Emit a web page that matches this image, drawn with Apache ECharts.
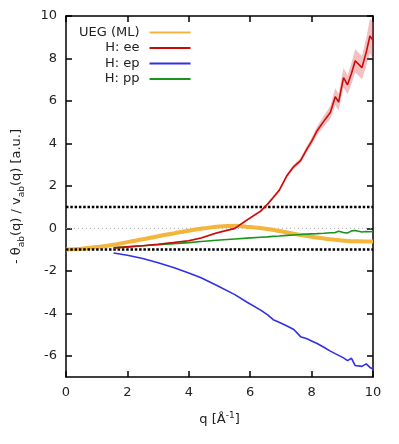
<!DOCTYPE html>
<html>
<head>
<meta charset="utf-8">
<script src="https://cdn.jsdelivr.net/npm/echarts@6/dist/echarts.min.js"></script>
<style>
  html, body { margin: 0; padding: 0; background: #fff; }
  #chart { width: 399px; height: 444px; }
</style>
</head>
<body>
<div id="chart"></div>
<script>
// UEG (ML) curve
const uegQ = [0, 0.5, 1, 1.5, 2, 2.5, 3, 3.5, 4, 4.5, 5, 5.5, 6, 6.5, 7, 7.5, 8, 8.5, 9, 9.5, 10];
const uegVal = [-1, -0.96, -0.88, -0.78, -0.65, -0.51, -0.37, -0.24, -0.11, 0.0, 0.09, 0.12, 0.06, -0.02, -0.14, -0.28, -0.4, -0.5, -0.57, -0.61, -0.62];

// hydrogen data, common q grid
const qH = [1.55, 2.0, 2.5, 3.0, 3.5, 4.0, 4.4, 4.9, 5.5, 5.9, 6.34, 6.56, 6.75, 6.94, 7.2, 7.42, 7.64, 7.85, 8.0, 8.18, 8.4, 8.61, 8.77, 8.88, 9.04, 9.17, 9.3, 9.42, 9.64, 9.78, 9.9, 10.0];
const ee = [-0.92, -0.87, -0.82, -0.75, -0.67, -0.58, -0.45, -0.22, 0.0, 0.4, 0.81, 1.13, 1.45, 1.78, 2.49, 2.91, 3.19, 3.74, 4.1, 4.6, 5.05, 5.46, 6.2, 5.95, 7.1, 6.76, 7.3, 7.89, 7.57, 8.3, 9.06, 8.85];
const eeErr = [0.04, 0.04, 0.04, 0.04, 0.04, 0.04, 0.04, 0.05, 0.05, 0.05, 0.06, 0.06, 0.07, 0.08, 0.09, 0.1, 0.12, 0.15, 0.17, 0.2, 0.25, 0.3, 0.4, 0.4, 0.45, 0.45, 0.5, 0.55, 0.55, 0.65, 0.8, 0.9];
const ep = [-1.16, -1.27, -1.42, -1.62, -1.84, -2.1, -2.33, -2.68, -3.12, -3.48, -3.85, -4.06, -4.3, -4.42, -4.6, -4.76, -5.1, -5.2, -5.3, -5.42, -5.6, -5.78, -5.9, -5.98, -6.1, -6.23, -6.12, -6.46, -6.5, -6.38, -6.55, -6.62];
const pp = [-0.92, -0.87, -0.82, -0.77, -0.72, -0.67, -0.62, -0.56, -0.5, -0.46, -0.42, -0.4, -0.38, -0.36, -0.33, -0.31, -0.29, -0.27, -0.26, -0.25, -0.23, -0.21, -0.2, -0.14, -0.2, -0.22, -0.12, -0.1, -0.17, -0.15, -0.16, -0.15];

const yTicks = [-6, -4, -2, 0, 2, 4, 6, 8, 10];

const chart = echarts.init(document.getElementById('chart'));
const font = 'DejaVu Sans';
const pairs = (xs, ys) => xs.map((x, i) => [x, ys[i]]);

const axisBase = {
  type: 'value',
  axisLine: { show: true, onZero: false, lineStyle: { color: '#000', width: 1.5 } },
  axisTick: { show: true, inside: true, length: 6, lineStyle: { color: '#000', width: 1.5 } },
  splitLine: { show: false }
};

// error band of H: ee, drawn as one polygon through the axis scales
function renderBand(params, api) {
  const pts = [];
  for (let i = 0; i < qH.length; i++) pts.push(api.coord([qH[i], ee[i] + eeErr[i]]));
  for (let i = qH.length - 1; i >= 0; i--) pts.push(api.coord([qH[i], ee[i] - eeErr[i]]));
  return {
    type: 'polygon',
    shape: { points: pts },
    style: { fill: 'rgba(215, 60, 60, 0.32)' }
  };
}

const option = {
  animation: false,
  textStyle: { fontFamily: font },
  grid: { left: 64, right: 26, top: 16, bottom: 67 },
  legend: {
    data: ['UEG (ML)', 'H: ee', 'H: ep', 'H: pp'],
    orient: 'vertical',
    align: 'right',
    left: 74,
    top: 21,
    itemWidth: 41,
    itemHeight: 14,
    itemGap: 2.5,
    itemStyle: { opacity: 0 },
    textStyle: { fontFamily: font, fontSize: 13, color: '#222', width: 68, align: 'right', padding: [0, 5, 0, 0] }
  },
  xAxis: [
    Object.assign({}, axisBase, {
      min: 0, max: 10, interval: 2, position: 'bottom',
      axisLabel: { fontFamily: font, fontSize: 13, color: '#222', margin: 9 },
      name: 'q [Å{sup|-1}]',
      nameLocation: 'middle',
      nameGap: 34,
      nameTextStyle: {
        fontFamily: font, fontSize: 13, color: '#222', lineHeight: 18,
        rich: { sup: { fontSize: 9, lineHeight: 10, verticalAlign: 'top', fontFamily: font, color: '#222' } }
      }
    }),
    Object.assign({}, axisBase, {
      min: 0, max: 10, interval: 2, position: 'top',
      axisLabel: { show: false }
    })
  ],
  yAxis: [
    Object.assign({}, axisBase, {
      min: -7, max: 10, position: 'left',
      axisTick: Object.assign({}, axisBase.axisTick, { customValues: yTicks }),
      axisLabel: { fontFamily: font, fontSize: 13, color: '#222', margin: 9, customValues: yTicks },
      name: '- θ{sub|ab}(q) / v{sub|ab}(q) [a.u.]',
      nameLocation: 'middle',
      nameRotate: 90,
      nameGap: 40,
      nameTextStyle: {
        fontFamily: font, fontSize: 13, color: '#222', lineHeight: 18,
        rich: { sub: { fontSize: 9, lineHeight: 10, verticalAlign: 'bottom', fontFamily: font, color: '#222' } }
      }
    }),
    Object.assign({}, axisBase, {
      min: -7, max: 10, position: 'right',
      axisTick: Object.assign({}, axisBase.axisTick, { customValues: yTicks }),
      axisLabel: { show: false }
    })
  ],
  series: [
    {
      name: 'zero', type: 'line', symbol: 'none', silent: true, z: 1,
      data: [[0, 0], [10, 0]],
      lineStyle: { color: '#aaa', width: 1, type: [1, 3] }
    },
    {
      name: 'band', type: 'custom', silent: true, z: 2, clip: true,
      renderItem: renderBand,
      data: [[qH[0], ee[0]]]
    },
    {
      name: 'UEG (ML)', type: 'line', symbol: 'none', smooth: true, z: 3,
      data: pairs(uegQ, uegVal),
      lineStyle: { color: '#f5b53c', width: 4 },
      itemStyle: { color: '#f5b53c' }
    },
    {
      name: 'plus1', type: 'line', symbol: 'none', silent: true, z: 4,
      data: [[0, 1], [10, 1]],
      lineStyle: { color: '#000', width: 2.5, type: [2.5, 1.8] }
    },
    {
      name: 'minus1', type: 'line', symbol: 'none', silent: true, z: 4,
      data: [[0, -1], [10, -1]],
      lineStyle: { color: '#000', width: 2.5, type: [2.5, 1.8] }
    },
    {
      name: 'H: pp', type: 'line', symbol: 'none', z: 5,
      data: pairs(qH, pp),
      lineStyle: { color: '#18961c', width: 1.6 },
      itemStyle: { color: '#18961c' }
    },
    {
      name: 'H: ep', type: 'line', symbol: 'none', z: 5,
      data: pairs(qH, ep),
      lineStyle: { color: '#3030e6', width: 1.6 },
      itemStyle: { color: '#3030e6' }
    },
    {
      name: 'H: ee', type: 'line', symbol: 'none', z: 6,
      data: pairs(qH, ee),
      lineStyle: { color: '#cc0a0a', width: 1.6 },
      itemStyle: { color: '#cc0a0a' }
    }
  ]
};

chart.setOption(option);
</script>
</body>
</html>
